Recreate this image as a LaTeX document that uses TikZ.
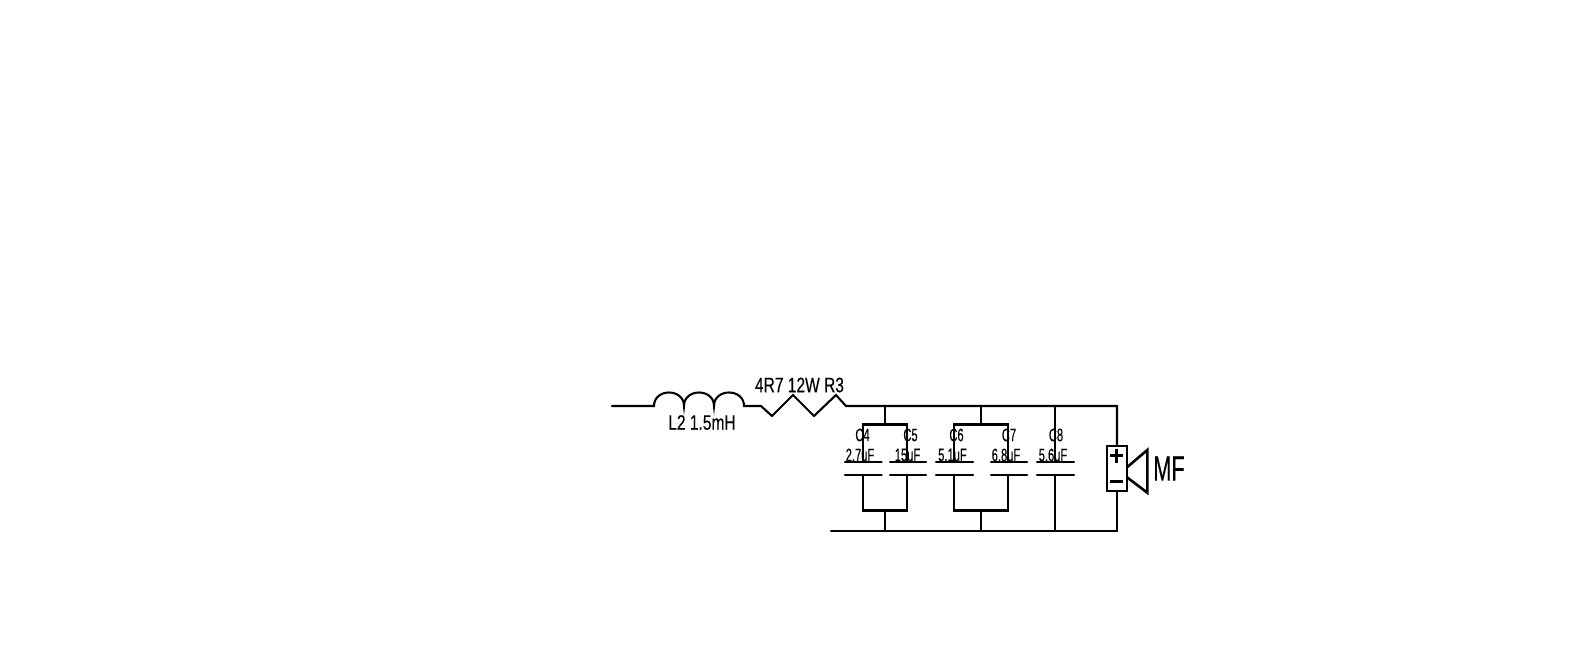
\documentclass[tikz,border=0pt]{standalone}
\usepackage{fontspec}
\setmainfont{Liberation Sans}
\newfontfamily\narrowfont[FakeStretch=0.74,FakeBold=0.25]{Liberation Sans}
\newfontfamily\tightfont[FakeStretch=0.62,FakeBold=0.25]{Liberation Sans}
\tikzset{
  wire/.style={line width=2.1pt,line cap=round,line join=miter,black},
  lbl/.style={inner sep=0pt,font=\narrowfont\fontsize{21}{21}\selectfont,text=black},
  small/.style={inner sep=0pt,font=\tightfont\fontsize{18}{18}\selectfont,text=black},
  big/.style={inner sep=0pt,font=\tightfont\fontsize{35}{35}\selectfont,text=black}
}
\begin{document}
\begin{tikzpicture}[x=1pt,y=-1pt]
\useasboundingbox (0,0) rectangle (1595,666);
\fill[white] (0,0) rectangle (1595,666);
% labels
\node[lbl] (rlabel) at (799.5,385) {4R7 12W R3};
\node[lbl] (llabel) at (702,422.5) {L2 1.5mH};
\node[small] (c4) at (862.5,435) {C4};
\node[small] (c5) at (910.5,435) {C5};
\node[small] (c6) at (956.5,435) {C6};
\node[small] (c7) at (1009,435) {C7};
\node[small] (c8) at (1056,435) {C8};
\node[small] (v4) at (860,455) {2.7uF};
\node[small] (v5) at (907.5,455) {15uF};
\node[small] (v6) at (952.5,455) {5.1uF};
\node[small] (v7) at (1006,455) {6.8uF};
\node[small] (v8) at (1053,455) {5.6uF};
\node[big] (mf) at (1169,468.5) {MF};
% junction points
\coordinate (in) at (612,406);
\coordinate (l1) at (654,406);
\coordinate (l2) at (684,406);
\coordinate (l3) at (714,406);
\coordinate (l4) at (744,406);
\coordinate (r0) at (761,406);
\coordinate (r5) at (846,406);
\coordinate (j1) at (885,406);
\coordinate (j2) at (981,406);
\coordinate (j3) at (1055,406);
\coordinate (j4) at (1117,406);
\coordinate (b0) at (831,531);
\coordinate (b1) at (885,531);
\coordinate (b2) at (981,531);
\coordinate (b3) at (1055,531);
\coordinate (b4) at (1117,531);
% inductor and resistor
\draw[wire] (in) -- (l1)
  .. controls (654,388) and (684,388) .. (l2)
  .. controls (684,388) and (714,388) .. (l3)
  .. controls (714,388) and (744,388) .. (l4)
  -- (r0) -- (772,416) -- (793,395) -- (814,416) -- (836,395) -- (r5) -- (j1) -- (j2) -- (j3) -- (j4) -- (1117,446);
\draw[wire] (b0) -- (b1) -- (b2) -- (b3) -- (b4) -- (1117,491);
% C4 / C5
\draw[wire] (j1) -- (885,424.5);
\draw[wire] (863,461.7) -- (863,424.5) -- (907,424.5) -- (907,461.7);
\draw[wire] (845,461.7) -- (881.7,461.7);
\draw[wire] (890,461.7) -- (926,461.7);
\draw[wire] (845,474.7) -- (881.7,474.7);
\draw[wire] (890,474.7) -- (926,474.7);
\draw[wire] (863,474.7) -- (863,510.5) -- (907,510.5) -- (907,474.7);
\draw[wire] (885,510.5) -- (b1);
% C6 / C7
\draw[wire] (j2) -- (981,424.5);
\draw[wire] (954,461.7) -- (954,424.5) -- (1008,424.5) -- (1008,461.7);
\draw[wire] (936,461.7) -- (973,461.7);
\draw[wire] (991,461.7) -- (1027,461.7);
\draw[wire] (936,474.7) -- (973,474.7);
\draw[wire] (991,474.7) -- (1027,474.7);
\draw[wire] (954,474.7) -- (954,510.5) -- (1008,510.5) -- (1008,474.7);
\draw[wire] (981,510.5) -- (b2);
% C8
\draw[wire] (j3) -- (1055,461.7);
\draw[wire] (1037,461.7) -- (1074,461.7);
\draw[wire] (1037,474.7) -- (1074,474.7);
\draw[wire] (1055,474.7) -- (b3);
% speaker
\draw[wire] (1107,446) rectangle (1127,491);
\draw[line width=3pt] (1110,455.7) -- (1123.4,455.7) (1116.7,448.7) -- (1116.7,462.7);
\draw[line width=3pt] (1110,481.7) -- (1123.4,481.7);
\draw[wire,line width=2.6pt] (1127,467.3) -- (1147.3,450) -- (1147.3,492.7) -- (1127,477.3);
\end{tikzpicture}
\end{document}
